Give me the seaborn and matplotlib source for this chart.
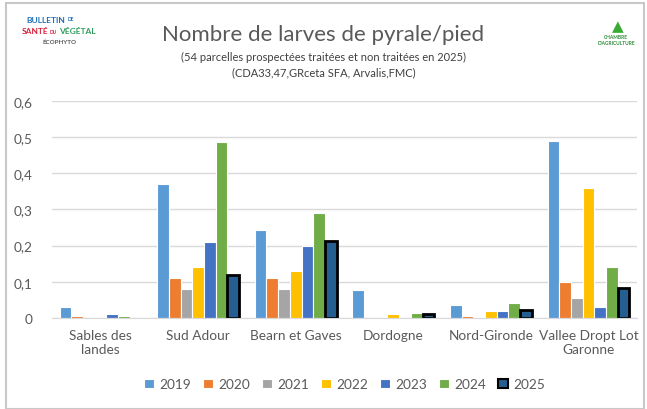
import numpy as np
import pandas as pd
import seaborn as sns
import matplotlib.pyplot as plt
from matplotlib.ticker import FuncFormatter
from matplotlib.patches import Rectangle

sns.set_style('white')
plt.rcParams['font.family'] = ['Lato', 'DejaVu Sans']

regions = ['Sables des\nlandes', 'Sud Adour', 'Bearn et Gaves', 'Dordogne',
           'Nord-Gironde', 'Vallee Dropt Lot\nGaronne']
years = ['2019', '2020', '2021', '2022', '2023', '2024', '2025']
v2019 = [0.03, 0.37, 0.243, 0.076, 0.037, 0.49]
v2020 = [0.005, 0.11, 0.11, 0.0, 0.005, 0.10]
v2021 = [0.0, 0.08, 0.08, 0.0, 0.003, 0.055]
v2022 = [0.0, 0.14, 0.13, 0.01, 0.019, 0.36]
v2023 = [0.01, 0.21, 0.20, 0.0, 0.019, 0.03]
v2024 = [0.005, 0.485, 0.29, 0.015, 0.04, 0.14]
v2025 = [0.0, 0.12, 0.213, 0.012, 0.022, 0.083]
colors = ['#5B9BD5', '#ED7D31', '#A5A5A5', '#FFC000', '#4472C4', '#70AD47', '#255E91']

vals = [v2019, v2020, v2021, v2022, v2023, v2024, v2025]
df = pd.DataFrame([(r, y, v[i]) for y, v in zip(years, vals) for i, r in enumerate(regions)],
                  columns=['region', 'year', 'value'])

fig = plt.figure(figsize=(6.47, 4.10), dpi=100)
ax = fig.add_axes([0.08, 0.222, 0.905, 0.53])
sns.barplot(data=df, x='region', y='value', hue='year', palette=colors,
            width=0.84, ax=ax, legend=True, saturation=1,
            edgecolor='white', linewidth=0.8)

# 2025 bars: thick black edge (none when the value is 0)
for bar in ax.containers[-1]:
    if bar.get_height() > 0:
        bar.set_edgecolor('black')
        bar.set_linewidth(2)
    else:
        bar.set_linewidth(0)

ax.set_ylim(0, 0.6)
ax.set_yticks(np.arange(0, 0.61, 0.1))
ax.yaxis.set_major_formatter(FuncFormatter(lambda v, p: '0' if v == 0 else f'{v:.1f}'.replace('.', ',')))
ax.grid(axis='y', color='#D9D9D9', linewidth=1)
ax.set_axisbelow(True)
ax.set_xlabel('')
ax.set_ylabel('')
for s in ['left', 'right', 'top']:
    ax.spines[s].set_visible(False)
ax.spines['bottom'].set_color('#D9D9D9')
ax.tick_params(axis='both', length=0, labelsize=9.8, colors='#595959', pad=8)
ax.tick_params(axis='y', pad=14)
ax.set_xlim(-0.5, 5.5)

h, l = ax.get_legend_handles_labels()
h[-1].set_edgecolor('black')
h[-1].set_linewidth(1.5)
ax.legend(h, l, loc='upper center', bbox_to_anchor=(0.5, -0.22), ncol=7, frameon=False,
          fontsize=9.8, handlelength=0.7, handleheight=0.7, handletextpad=0.4,
          columnspacing=0.9, labelcolor='#595959')

fig.text(0.5, 0.9, 'Nombre de larves de pyrale/pied', ha='center', fontsize=16, color='#595959')
fig.text(0.5, 0.852, '(54 parcelles prospectées traitées et non traitées en 2025)',
         ha='center', fontsize=8, color='#404040')
fig.text(0.5, 0.815, '(CDA33,47,GRceta SFA, Arvalis,FMC)', ha='center', fontsize=8, color='#404040')

# logos as text
fig.text(0.04, 0.945, 'BULLETIN', fontsize=6, color='#1F6FB5', weight='bold')
fig.text(0.104, 0.948, 'DE', fontsize=3.5, color='#1F6FB5', weight='bold')
fig.text(0.033, 0.918, 'SANTÉ', fontsize=6, color='#D9233D', weight='bold')
fig.text(0.076, 0.918, 'DU', fontsize=3.5, color='#D9233D', weight='bold')
fig.text(0.091, 0.918, 'VÉGÉTAL', fontsize=6, color='#2E9E5B', weight='bold')
fig.text(0.065, 0.893, 'ÉCOPHYTO', fontsize=4.5, color='#5A5A5A', weight='bold')
fig.text(0.952, 0.89, 'CHAMBRE\nD\'AGRICULTURE', fontsize=3.5, color='#2E8B3A', ha='center', weight='bold')
fig.text(0.955, 0.925, '▲', fontsize=11, color='#3AAA35', ha='center', family='DejaVu Sans')

fig.patches.append(Rectangle((0.01, 0.0), 0.985, 0.99, transform=fig.transFigure,
                             fill=False, edgecolor='#C8C8C8', linewidth=1.5))

fig.savefig('out.png', dpi=100)
